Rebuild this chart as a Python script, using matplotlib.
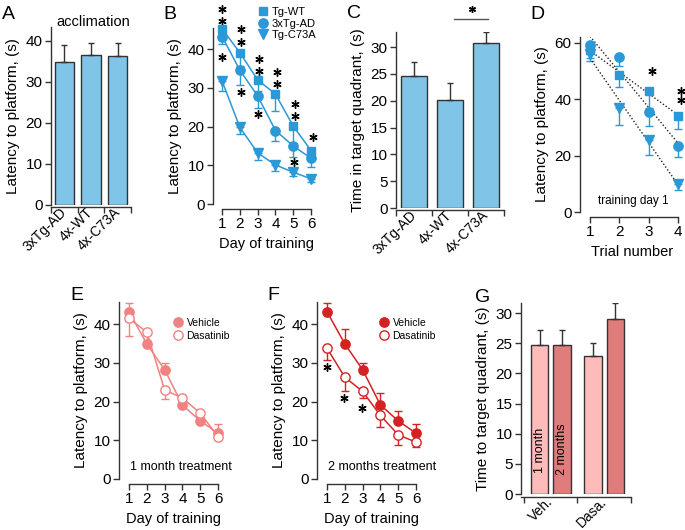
import numpy as np
import matplotlib
matplotlib.use("Agg")
import matplotlib.pyplot as plt
from matplotlib.lines import Line2D

plt.rcParams['font.family'] = ['Liberation Sans', 'DejaVu Sans']
plt.rcParams['axes.linewidth'] = 1.0
plt.rcParams['axes.edgecolor'] = '#333333'

# ---- data ----
genotypes = ['3xTg-AD', '4x-WT', '4x-C73A']
accl_mean = [34.8, 36.5, 36.4]
accl_sem = [4.2, 3.1, 3.1]

days = [1, 2, 3, 4, 5, 6]
wt_mean = [45.3, 39.1, 32.1, 28.4, 20.1, 13.8]
wt_sem = [1.5, 3.4, 3.0, 4.3, 5.5, 2.0]
ad_mean = [43.3, 34.6, 27.9, 19.0, 15.0, 11.8]
ad_sem = [2.0, 3.8, 3.2, 2.8, 2.8, 2.3]
c73_mean = [31.8, 19.8, 13.2, 10.1, 8.2, 6.5]
c73_sem = [2.5, 1.8, 1.9, 1.6, 1.0, 0.7]
b_star_x = [1, 1, 1, 2.08, 2.08, 2.05, 3.05, 3.05, 3.02, 4.07, 4.07, 5.07, 5.07, 5.02, 6.1]
b_star_y = [50.3, 47.2, 38.0, 45.2, 41.8, 29.0, 37.4, 34.3, 23.2, 34.0, 31.0, 25.8, 22.7, 10.8, 17.3]

quad_mean = [24.6, 20.2, 30.7]
quad_sem = [2.7, 3.1, 2.1]

trials = [1, 2, 3, 4]
d_wt = [57.5, 48.6, 42.9, 34.0]
d_wt_sem = [3.0, 4.2, 6.0, 4.7]
d_ad = [59.2, 54.9, 35.6, 23.5]
d_ad_sem = [2.0, 3.0, 5.0, 3.9]
d_c73 = [56.0, 36.8, 25.5, 9.9]
d_c73_sem = [2.5, 5.9, 5.3, 2.0]
d_star_x = [3.1, 4.1, 4.1]
d_star_y = [49.8, 42.7, 39.7]

e_veh = [43.2, 34.9, 28.2, 19.1, 15.0, 11.8]
e_veh_sem = [2.2, 1.0, 1.8, 2.5, 1.5, 2.4]
e_das = [41.5, 37.9, 23.0, 20.9, 17.0, 10.9]
e_das_sem = [4.5, 2.5, 2.4, 1.5, 1.0, 0.8]

f_veh = [43.2, 34.9, 28.2, 19.1, 15.0, 11.8]
f_veh_sem = [2.2, 3.8, 1.8, 3.0, 2.6, 2.4]
f_das = [33.8, 26.3, 22.6, 16.4, 11.4, 9.5]
f_das_sem = [3.1, 3.6, 1.6, 3.1, 2.6, 1.2]
f_star_x = [0.98, 1.98, 2.98]
f_star_y = [28.8, 20.8, 18.4]

treat_groups = ['Veh.', 'Dasa.']
g_1month = [24.7, 22.9]
g_1month_sem = [2.6, 2.1]
g_2months = [24.7, 29.0]
g_2months_sem = [2.6, 2.7]

BAR_BLUE = '#80C4E8'
LINE_BLUE = '#2B98D8'
E_COLOR = '#F28282'
F_COLOR = '#D42222'
G_LIGHT = '#FFBABA'
G_DARK = '#E07C7C'
EDGE = '#333333'

W, H = 685, 530
fig = plt.figure(figsize=(W / 100, H / 100), dpi=100)


def add_ax(x0, x1, ytop, ybot):
    # pixel box -> figure fraction
    return fig.add_axes([x0 / W, 1 - ybot / H, (x1 - x0) / W, (ybot - ytop) / H])


def style(ax, offset, bounds=None):
    ax.spines['top'].set_visible(False)
    ax.spines['right'].set_visible(False)
    ax.spines['bottom'].set_position(('outward', offset))
    if bounds is not None:
        ax.spines['bottom'].set_bounds(*bounds)
    ax.tick_params(direction='out', length=4, width=1, labelsize=11, pad=2, color=EDGE)
    ax.patch.set_visible(False)


def stars(ax, xs, ys, size=6):
    ax.plot(xs, ys, ls='none', marker=(6, 2, 0), ms=size, mew=1.0,
            color='black', clip_on=False)


def bar_axis(ax, n, labels):
    ax.set_xticks(np.arange(n + 1) - 0.5, [''] * (n + 1))
    ax.set_xticks(np.arange(n), labels, minor=True)
    ax.tick_params(axis='x', which='minor', length=0, pad=2)
    for t in ax.get_xticklabels(minor=True):
        t.set_rotation(45)
        t.set_ha('right')
        t.set_va('center')
        t.set_rotation_mode('anchor')
        t.set_fontsize(10)


zeros6 = np.zeros(6)
zeros4 = np.zeros(4)

# ---- A ----
ax = add_ax(51, 131, 26.6, 205)
x = np.arange(3)
ax.bar(x, accl_mean, width=0.72, color=BAR_BLUE, edgecolor=EDGE, lw=1,
       yerr=[np.zeros(3), accl_sem], capsize=2.5,
       error_kw=dict(ecolor=EDGE, elinewidth=1, capthick=1))
ax.set_xlim(-0.5, 2.5)
ax.set_ylim(0, 43.5)
ax.set_yticks([0, 10, 20, 30, 40])
style(ax, 1.5)
bar_axis(ax, 3, genotypes)
ax.set_ylabel('Latency to platform, (s)', fontsize=11)
fig.text(93 / W, 1 - 22 / H, 'acclimation', fontsize=10.5, ha='center', va='center')

# ---- B ----
ax = add_ax(213, 320, 28, 204)
ax.errorbar(days, wt_mean, yerr=[wt_sem, zeros6], color=LINE_BLUE, marker='s', ms=6.2,
            lw=1.1, capsize=3, elinewidth=1, clip_on=False)
ax.errorbar(days, ad_mean, yerr=[ad_sem, zeros6], color=LINE_BLUE, marker='o', ms=6.7,
            lw=1.1, capsize=3, elinewidth=1, clip_on=False)
ax.errorbar(days, c73_mean, yerr=[c73_sem, zeros6], color=LINE_BLUE, marker='v', ms=7.2,
            lw=1.1, capsize=3, elinewidth=1, clip_on=False)
stars(ax, b_star_x, b_star_y)
ax.set_xlim(0.49, 6.5)
ax.set_ylim(0, 45.5)
ax.set_xticks(days)
ax.set_yticks([0, 10, 20, 30, 40])
style(ax, 3.5, (1, 6))
ax.set_ylabel('Latency to platform, (s)', fontsize=11)
ax.set_xlabel('Day of training', fontsize=10.5)
handles = [Line2D([], [], ls='none', marker=m, ms=s, color=LINE_BLUE)
           for m, s in [('s', 6.2), ('o', 6.7), ('v', 7.2)]]
fig.legend(handles, ['Tg-WT', '3xTg-AD', 'Tg-C73A'], loc='upper left',
           bbox_to_anchor=(257 / W, 1 - 7 / H), frameon=False, fontsize=8,
           handlelength=1, handletextpad=0.3, borderpad=0, labelspacing=0.15,
           borderaxespad=0)

# ---- C ----
ax = add_ax(396, 504, 32, 208)
ax.bar(x, quad_mean, width=0.73, color=BAR_BLUE, edgecolor=EDGE, lw=1,
       yerr=[np.zeros(3), quad_sem], capsize=2.5,
       error_kw=dict(ecolor=EDGE, elinewidth=1, capthick=1))
ax.plot([1.1, 2.05], [35.3, 35.3], color='#555555', lw=1, clip_on=False)
stars(ax, [1.6], [37.0], size=5)
ax.set_xlim(-0.5, 2.5)
ax.set_ylim(0, 32.8)
ax.set_yticks([0, 5, 10, 15, 20, 25, 30])
style(ax, 1.5)
bar_axis(ax, 3, genotypes)
ax.set_ylabel('Time in target quadrant, (s)', fontsize=11)

# ---- D ----
ax = add_ax(580, 684, 37, 212)
for ys, es, m, s in [(d_wt, d_wt_sem, 's', 6.2), (d_ad, d_ad_sem, 'o', 6.7),
                     (d_c73, d_c73_sem, 'v', 7.2)]:
    ax.errorbar(trials, ys, yerr=[es, zeros4], color=LINE_BLUE, marker=m, ms=s,
                ls='none', capsize=3, elinewidth=1, clip_on=False)
    k, b = np.polyfit(trials, ys, 1)
    ax.plot([1, 4], [k * 1 + b, k * 4 + b], ls=(0, (1, 1.5)), color='#222222', lw=1)
stars(ax, d_star_x, d_star_y)
ax.text(2.47, 4.0, 'training day 1', fontsize=8.5, ha='center', va='center')
ax.set_xlim(0.66, 4.2)
ax.set_ylim(0, 62)
ax.set_xticks(trials)
ax.set_yticks([0, 20, 40, 60])
style(ax, 3.5, (1, 4))
ax.set_ylabel('Latency to platform, (s)', fontsize=11)
ax.set_xlabel('Trial number', fontsize=10.5)

# ---- E and F ----
for x0, veh, veh_e, das, das_e, col, txt, lx in [
        (119, e_veh, e_veh_sem, e_das, e_das_sem, E_COLOR, '1 month treatment', 173),
        (317, f_veh, f_veh_sem, f_das, f_das_sem, F_COLOR, '2 months treatment', 379)]:
    ax = add_ax(x0, x0 + 108, 302, 479)
    ax.errorbar(days, veh, yerr=[zeros6, veh_e], color=col, marker='o', ms=6.7,
                lw=1.1, capsize=3, elinewidth=1, clip_on=False)
    ax.errorbar(days, das, yerr=[das_e, zeros6], color=col, marker='o', ms=6.7,
                mfc='white', mew=1, lw=1.1, capsize=3, elinewidth=1, clip_on=False)
    ax.text(1.08, 3.1, txt, fontsize=9, ha='left', va='center')
    ax.set_xlim(0.44, 6.5)
    ax.set_ylim(0, 45.7)
    ax.set_xticks(days)
    ax.set_yticks([0, 10, 20, 30, 40])
    style(ax, 3.5, (1, 6))
    ax.set_ylabel('Latency to platform, (s)', fontsize=11)
    ax.set_xlabel('Day of training', fontsize=10.5)
    handles = [Line2D([], [], ls='none', marker='o', ms=6.7, color=col),
               Line2D([], [], ls='none', marker='o', ms=6.7, color=col, mfc='white', mew=1)]
    fig.legend(handles, ['Vehicle', 'Dasatinib'], loc='upper left',
               bbox_to_anchor=(lx / W, 1 - 318 / H), frameon=False, fontsize=7.5,
               handlelength=1, handletextpad=0.3, borderpad=0, labelspacing=0.25,
               borderaxespad=0)
    if col == F_COLOR:
        stars(ax, f_star_x, f_star_y)

# ---- G ----
ax = add_ax(521, 631, 303, 494)
gx = np.arange(2)
ax.bar(gx - 0.21, g_1month, width=0.33, color=G_LIGHT, edgecolor=EDGE, lw=1,
       yerr=[np.zeros(2), g_1month_sem], capsize=2.5,
       error_kw=dict(ecolor=EDGE, elinewidth=1, capthick=1))
ax.bar(gx + 0.21, g_2months, width=0.33, color=G_DARK, edgecolor=EDGE, lw=1,
       yerr=[np.zeros(2), g_2months_sem], capsize=2.5,
       error_kw=dict(ecolor=EDGE, elinewidth=1, capthick=1))
ax.text(-0.21, 7.2, '1 month', rotation=90, fontsize=9, ha='center', va='center')
ax.text(0.21, 7.4, '2 months', rotation=90, fontsize=9, ha='center', va='center')
ax.set_xlim(-0.556, 1.5)
ax.set_ylim(0, 31.7)
ax.set_yticks([0, 5, 10, 15, 20, 25, 30])
style(ax, 2)
bar_axis(ax, 2, treat_groups)
ax.set_ylabel('Time to target quadrant, (s)', fontsize=11)

# panel letters
for lbl, px, py in [('A', 2, 6), ('B', 163, 6), ('C', 347, 5), ('D', 530, 6),
                    ('E', 70, 287), ('F', 267, 287), ('G', 475, 289)]:
    fig.text(px / W, 1 - py / H, lbl, fontsize=14, ha='left', va='top')

fig.savefig('out.png', dpi=100)
